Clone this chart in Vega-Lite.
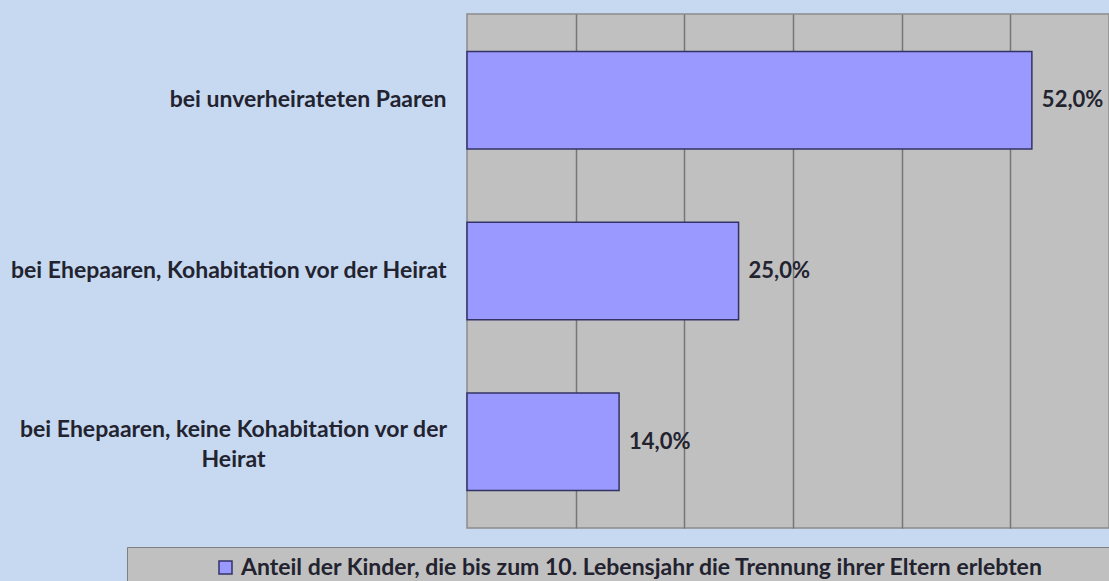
{
  "$schema": "https://vega.github.io/schema/vega-lite/v6.json",
  "autosize": {"type": "none"},
  "width": 642,
  "height": 514,
  "padding": {"left": 467, "top": 14, "right": 0, "bottom": 53},
  "background": "#c6d9f0",
  "config": {
    "locale": {"number": {"decimal": ",", "thousands": ".", "grouping": [3], "currency": ["", " €"]}},
    "view": {"fill": "#c0c0c0", "stroke": "#8c8c8c", "strokeWidth": 1.5},
    "font": "Lato"
  },
  "data": {
    "values": [
      {"Gruppe": "bei unverheirateten Paaren", "Anteil": 0.52, "Serie": "Anteil der Kinder, die bis zum 10. Lebensjahr die Trennung ihrer Eltern erlebten"},
      {"Gruppe": "bei Ehepaaren, Kohabitation vor der Heirat", "Anteil": 0.25, "Serie": "Anteil der Kinder, die bis zum 10. Lebensjahr die Trennung ihrer Eltern erlebten"},
      {"Gruppe": "bei Ehepaaren, keine Kohabitation vor der Heirat", "Anteil": 0.14, "Serie": "Anteil der Kinder, die bis zum 10. Lebensjahr die Trennung ihrer Eltern erlebten"}
    ]
  },
  "encoding": {
    "y": {
      "field": "Gruppe",
      "type": "nominal",
      "sort": null,
      "scale": {"paddingInner": 0.43, "paddingOuter": 0.22},
      "axis": {
        "title": null,
        "ticks": false,
        "tickSize": 0,
        "domain": false,
        "labelFontSize": 23,
        "labelFontWeight": "bold",
        "labelColor": "#232330",
        "labelLimit": 600,
        "labelLineHeight": 30,
        "labelExpr": "datum.value === 'bei Ehepaaren, keine Kohabitation vor der Heirat' ? ['bei Ehepaaren, keine Kohabitation vor der', 'Heirat'] : datum.value",
        "labelAlign": {"condition": {"test": "datum.value === 'bei Ehepaaren, keine Kohabitation vor der Heirat'", "value": "center"}, "value": "right"},
        "labelPadding": {"condition": {"test": "datum.value === 'bei Ehepaaren, keine Kohabitation vor der Heirat'", "value": 234}, "value": 21},
        "labelOffset": {"condition": {"test": "datum.value === 'bei Ehepaaren, keine Kohabitation vor der Heirat'", "value": -12}, "value": 0}
      }
    },
    "x": {
      "field": "Anteil",
      "type": "quantitative",
      "scale": {"domain": [0, 0.591], "nice": false},
      "axis": {
        "title": null,
        "values": [0.1, 0.2, 0.3, 0.4, 0.5],
        "labels": false,
        "ticks": false,
        "domain": false,
        "grid": true,
        "gridColor": "#767676",
        "gridWidth": 1.5
      }
    }
  },
  "layer": [
    {
      "mark": {"type": "bar", "stroke": "#333366", "strokeWidth": 1.5},
      "encoding": {
        "color": {
          "field": "Serie",
          "type": "nominal",
          "scale": {"range": ["#9999ff"]},
          "legend": {
            "orient": "none",
            "legendX": -340,
            "legendY": 533,
            "title": null,
            "fillColor": "#c0c0c0",
            "strokeColor": "#7f7f7f",
            "padding": 9,
            "symbolType": "square",
            "symbolSize": 169,
            "symbolStrokeColor": "#333366",
            "symbolStrokeWidth": 1.5,
            "symbolOffset": 78,
            "labelOffset": 4,
            "labelFontSize": 23,
            "labelFontWeight": "bold",
            "labelColor": "#232330",
            "labelLimit": 1500,
            "labelExpr": "datum.label + '\u2800\u2800\u2800\u2800'"
          }
        }
      }
    },
    {
      "mark": {"type": "text", "align": "left", "baseline": "middle", "dx": 10, "fontWeight": "bold", "fontSize": 22, "color": "#232330"},
      "encoding": {
        "text": {"field": "Anteil", "type": "quantitative", "format": ".1%"}
      }
    }
  ]
}
